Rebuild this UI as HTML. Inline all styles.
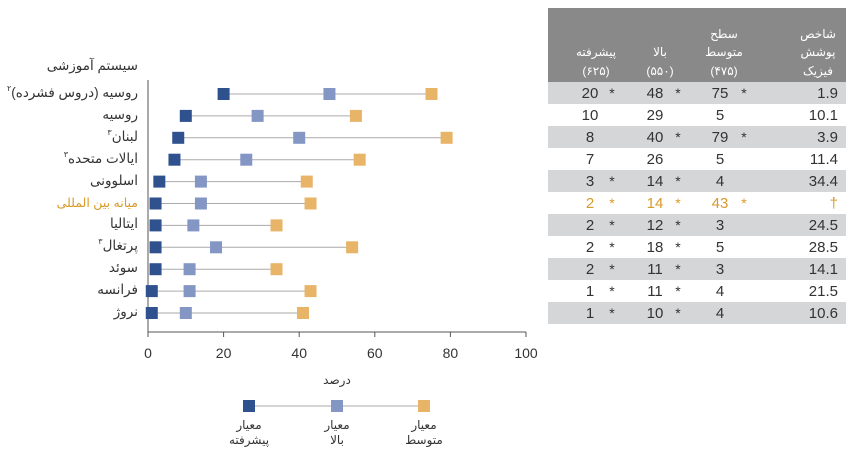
<!DOCTYPE html>
<html><head><meta charset="utf-8"><style>
body{margin:0;background:#fff;width:866px;height:460px;overflow:hidden;font-family:"Liberation Sans","DejaVu Sans",sans-serif;position:relative}
.lb{position:absolute;right:728px;direction:rtl;font-size:13.5px;color:#333;white-space:nowrap;line-height:16px;height:16px}
.lb sup{font-size:8px;vertical-align:baseline;position:relative;top:-6px;line-height:0}
</style></head><body>
<svg width="866" height="460" xmlns="http://www.w3.org/2000/svg" style="position:absolute;left:0;top:0" font-family="Liberation Sans, DejaVu Sans, sans-serif">
<text x="138" y="70" text-anchor="end" font-size="13.5" fill="#333">سیستم آموزشی</text>
<line x1="148" y1="80" x2="148" y2="332" stroke="#555" stroke-width="1"/>
<line x1="148" y1="332" x2="526" y2="332" stroke="#555" stroke-width="1"/>
<g font-size="14" fill="#333" text-anchor="middle">
<line x1="148" y1="332" x2="148" y2="337" stroke="#555"/><text x="148" y="358">0</text>
<line x1="223.6" y1="332" x2="223.6" y2="337" stroke="#555"/><text x="223.6" y="358">20</text>
<line x1="299.2" y1="332" x2="299.2" y2="337" stroke="#555"/><text x="299.2" y="358">40</text>
<line x1="374.8" y1="332" x2="374.8" y2="337" stroke="#555"/><text x="374.8" y="358">60</text>
<line x1="450.4" y1="332" x2="450.4" y2="337" stroke="#555"/><text x="450.4" y="358">80</text>
<line x1="526" y1="332" x2="526" y2="337" stroke="#555"/><text x="526" y="358">100</text>
<text x="337" y="384" font-size="12">درصد</text>
</g>
<g id="rows"></g>
<g>
<line x1="249" y1="406" x2="424" y2="406" stroke="#aaa"/>
<rect x="243" y="400" width="12" height="12" fill="#2f528f"/>
<rect x="331" y="400" width="12" height="12" fill="#8496c4"/>
<rect x="418" y="400" width="12" height="12" fill="#e8b468"/>
<g font-size="12" fill="#333" text-anchor="middle">
<text x="249" y="429">معیار</text><text x="249" y="444">پیشرفته</text>
<text x="337" y="429">معیار</text><text x="337" y="444">بالا</text>
<text x="424" y="429">معیار</text><text x="424" y="444">متوسط</text>
</g></g>
<rect x="548" y="8" width="298" height="74" fill="#898989"/>
<g font-size="12" fill="#fff" text-anchor="middle">
<text x="596" y="56">پیشرفته</text><text x="596" y="75">(۶۲۵)</text>
<text x="660" y="56">بالا</text><text x="660" y="75">(۵۵۰)</text>
<text x="724" y="38">سطح</text><text x="724" y="56">متوسط</text><text x="724" y="75">(۴۷۵)</text>
<text x="818" y="38">شاخص</text><text x="818" y="56">پوشش</text><text x="818" y="75">فیزیک</text>
</g>
<g id="tbl"></g>
</svg>
<div id="labels"></div>
<script>
var d=[["روسیه (دروس فشرده)","۲",20,48,75,"1.9",[1,1,1]],["روسیه","",10,29,55,"10.1",[0,0,0],"5"],["لبنان","۳",8,40,79,"3.9",[0,1,1]],["ایالات متحده","۳",7,26,56,"11.4",[0,0,0],"5"],["اسلوونی","",3,14,42,"34.4",[1,1,0],"4"],["میانه بین المللی","",2,14,43,"†",[1,1,1]],["ایتالیا","",2,12,34,"24.5",[1,1,0],"3"],["پرتغال","۳",2,18,54,"28.5",[1,1,0],"5"],["سوئد","",2,11,34,"14.1",[1,1,0],"3"],["فرانسه","",1,11,43,"21.5",[1,1,0],"4"],["نروژ","",1,10,41,"10.6",[1,1,0],"4"]];
var ns="http://www.w3.org/2000/svg",g=document.getElementById("rows"),t=document.getElementById("tbl"),L=document.getElementById("labels");
function el(p,n,a,tx){var e=document.createElementNS(ns,n);for(var k in a)e.setAttribute(k,a[k]);if(tx!=null)e.textContent=tx;p.appendChild(e);return e;}
function X(v){return 148+v*3.78;}
d.forEach(function(r,i){var y=94+i*21.9;var med=i==5;
var dv=document.createElement("div");dv.className="lb";dv.style.top=(y-9)+"px";if(med){dv.style.color="#d99a2b";dv.style.fontSize="12.5px";}
dv.textContent=r[0];if(r[1]){var s=document.createElement("sup");s.textContent=r[1];dv.appendChild(s);}L.appendChild(dv);
el(g,"line",{x1:X(r[2]),y1:y,x2:X(r[4]),y2:y,stroke:"#aaa"});
el(g,"rect",{x:X(r[2])-6,y:y-6,width:12,height:12,fill:"#2f528f"});
el(g,"rect",{x:X(r[3])-6,y:y-6,width:12,height:12,fill:"#8496c4"});
el(g,"rect",{x:X(r[4])-6,y:y-6,width:12,height:12,fill:"#e8b468"});
var ty=82+i*22;if(i%2==0)el(t,"rect",{x:548,y:ty,width:298,height:22,fill:"#d5d6d7"});
var c=med?"#d99a2b":"#333",fy=ty+16;
var vals=[r[2],r[3],r[7]||r[4]];var xs=[590,655,720],sx=[612,678,744];
for(var j=0;j<3;j++){el(t,"text",{x:xs[j],y:fy,"text-anchor":"middle","font-size":15,fill:c},vals[j]);if(r[6][j])el(t,"text",{x:sx[j],y:fy,"text-anchor":"middle","font-size":14,fill:c},"*");}
el(t,"text",{x:838,y:fy,"text-anchor":"end","font-size":15,fill:c},r[5]);
});
</script>
</body></html>
